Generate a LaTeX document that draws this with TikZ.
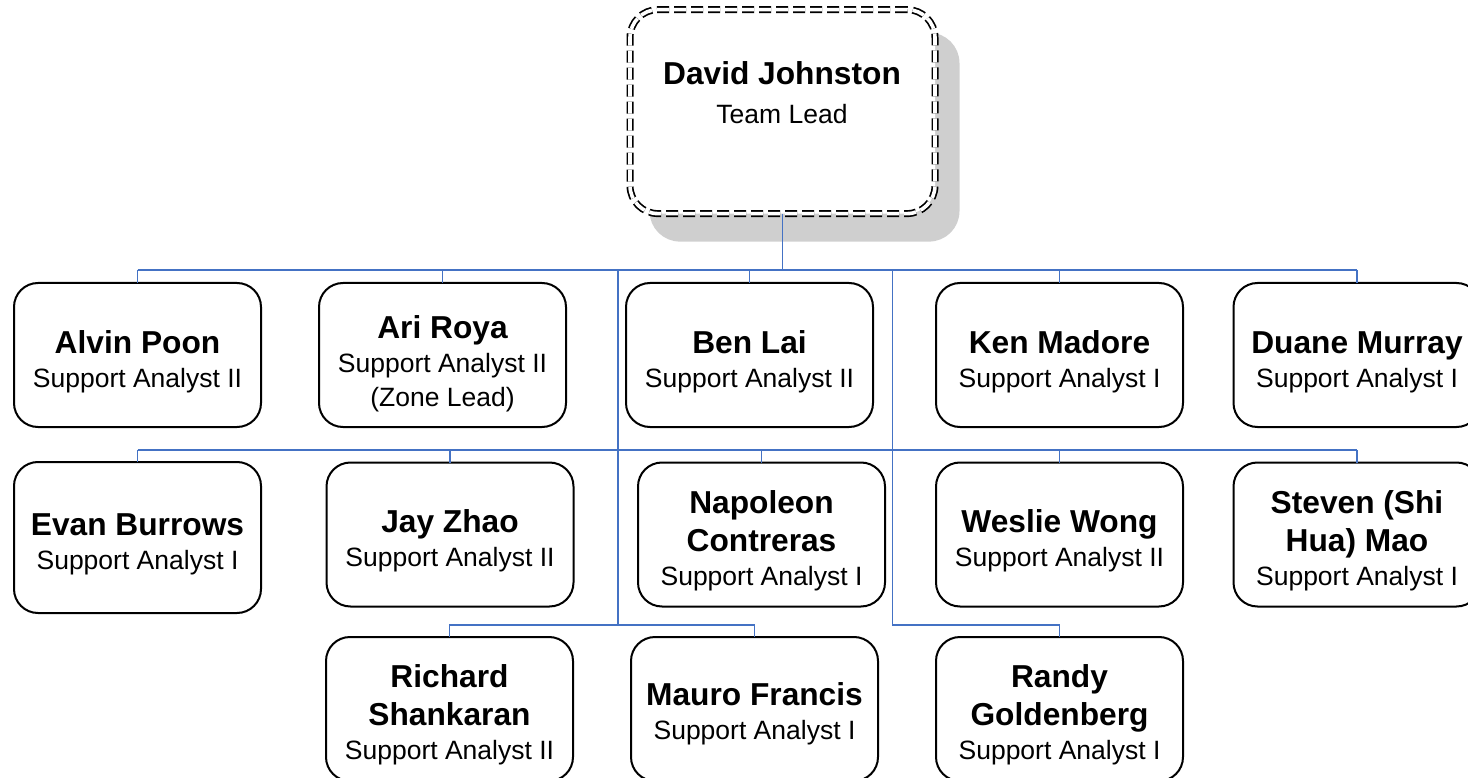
\documentclass[tikz,border=0pt]{standalone}
\usepackage{fontspec}
\setmainfont{Liberation Sans}
\usetikzlibrary{backgrounds}
\definecolor{linkblue}{HTML}{4472C4}
\definecolor{shadowgray}{HTML}{CFCFCF}
\newcommand\nmf{\bfseries\fontsize{31.7}{34}\selectfont}
\newcommand\sbf{\mdseries\fontsize{26.5}{34}\selectfont}
\begin{document}
\begin{tikzpicture}[x=1pt,y=-1pt,
  card/.style={draw=black, line width=2pt, fill=white, rounded corners=24pt,
    minimum width=247pt, minimum height=144pt, inner sep=0pt, outer sep=0pt},
  lbl/.style={inner sep=0pt, outer sep=0pt, align=center, font=\sbf},
  link/.style={draw=linkblue, line width=1.9pt},
  leadbox/.style={draw=black, line width=1.7pt, double=white, double distance=3.6pt,
    dash pattern=on 12pt off 5pt, fill=white, rounded corners=28pt,
    minimum width=305pt, minimum height=204pt, inner sep=0pt, outer sep=0pt}]
\useasboundingbox (0,0) rectangle (1468,778);
\clip (0,0) rectangle (1468,778);

% lead
\node[leadbox] (lead) at (782.5,111.6) {};
\begin{pgfonlayer}{background}
\filldraw[fill=shadowgray, draw=shadowgray, line width=5pt, rounded corners=28pt]
  ([shift={(22,25.5)}]lead.north west) rectangle ([shift={(22,25.5)}]lead.south east);
\end{pgfonlayer}
\node[lbl] (lead-t) at (782,93) {\nmf David Johnston\\[5pt]\sbf Team Lead};

% row 1
\node[card] (alvin) at (137.5,355) {};
\node[card] (ari) at (442.5,355) {};
\node[card] (ben) at (749.5,355) {};
\node[card] (ken) at (1059.5,355) {};
\node[card] (duane) at (1357,355) {};
% row 2
\node[card, minimum height=151pt] (evan) at (137.5,537.5) {};
\node[card] (jay) at (450,534.5) {};
\node[card] (napoleon) at (761.5,534.5) {};
\node[card] (weslie) at (1059.5,534.5) {};
\node[card] (steven) at (1357,534.5) {};
% row 3
\node[card] (richard) at (449.5,709) {};
\node[card] (mauro) at (754.5,709) {};
\node[card] (randy) at (1059.5,709) {};

% labels
\node[lbl] (alvin-t) at ([yshift=-7pt]alvin.center) {\nmf Alvin Poon\\\sbf Support Analyst II};
\node[lbl] (ari-t) at ([yshift=-9pt]ari.center) {\nmf Ari Roya\\\sbf Support Analyst II\\\sbf (Zone Lead)};
\node[lbl] (ben-t) at ([yshift=-7pt]ben.center) {\nmf Ben Lai\\\sbf Support Analyst II};
\node[lbl] (ken-t) at ([yshift=-7pt]ken.center) {\nmf Ken Madore\\\sbf Support Analyst I};
\node[lbl] (duane-t) at ([yshift=-7pt]duane.center) {\nmf Duane Murray\\\sbf Support Analyst I};

\node[lbl] (evan-t) at ([yshift=-7pt]evan.center) {\nmf Evan Burrows\\\sbf Support Analyst I};
\node[lbl] (jay-t) at ([yshift=-6pt]jay.center) {\nmf Jay Zhao\\\sbf Support Analyst II};
\node[lbl] (napoleon-t) at ([yshift=-6pt]napoleon.center) {\nmf Napoleon\\[4pt]\nmf Contreras\\\sbf Support Analyst I};
\node[lbl] (weslie-t) at ([yshift=-6pt]weslie.center) {\nmf Weslie Wong\\\sbf Support Analyst II};
\node[lbl] (steven-t) at ([yshift=-6pt]steven.center) {\nmf Steven (Shi\\[4pt]\nmf Hua) Mao\\\sbf Support Analyst I};

\node[lbl] (richard-t) at ([yshift=-6pt]richard.center) {\nmf Richard\\[4pt]\nmf Shankaran\\\sbf Support Analyst II};
\node[lbl] (mauro-t) at ([yshift=-5pt]mauro.center) {\nmf Mauro Francis\\\sbf Support Analyst I};
\node[lbl] (randy-t) at ([yshift=-6pt]randy.center) {\nmf Randy\\[4pt]\nmf Goldenberg\\\sbf Support Analyst I};

% connectors
\coordinate (b1) at (782,270);
\coordinate (b2) at (782,450);
\coordinate (b3) at (782,625);
\coordinate (tl) at (618,270);
\coordinate (tr) at (892.5,270);

\draw[link] (lead.south) -- (lead.south |- b1);
\draw[link] (alvin.north |- b1) -- (duane.north |- b1);
\foreach \n in {alvin,ari,ben,ken,duane} \draw[link] (\n.north |- b1) -- (\n.north);
\draw[link] (evan.north |- b2) -- (steven.north |- b2);
\foreach \n in {evan,jay,napoleon,weslie,steven} \draw[link] (\n.north |- b2) -- (\n.north);
\draw[link] (tl) -- (tl |- b3) -| (richard.north);
\draw[link] (tl |- b3) -| (mauro.north);
\draw[link] (tr) -- (tr |- b3) -| (randy.north);
\end{tikzpicture}
\end{document}
